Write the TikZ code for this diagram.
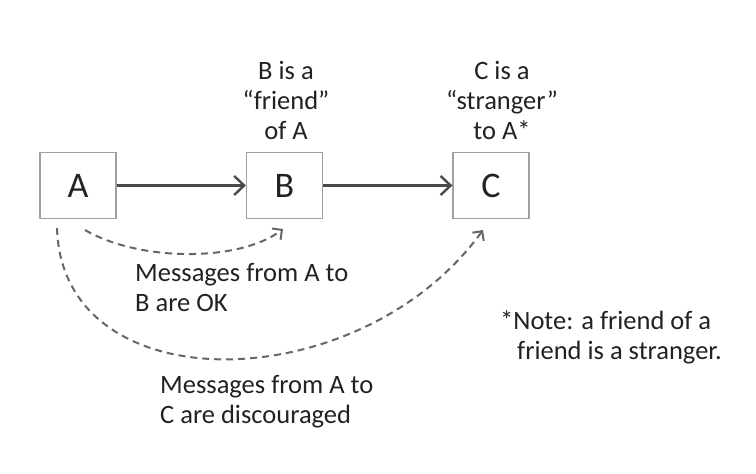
\documentclass[tikz,border=0pt]{standalone}
\usepackage{fontspec}
\setmainfont{Carlito}
\usetikzlibrary{arrows.meta}
\definecolor{txt}{HTML}{222222}
\definecolor{boxline}{HTML}{A0A0A0}
\definecolor{arr}{HTML}{4A4A4A}
\definecolor{dsh}{HTML}{666666}
\begin{document}
\begin{tikzpicture}[x=1pt,y=-1pt,
  box/.style={draw=boxline,line width=1.2pt,minimum width=76pt,minimum height=66pt,inner sep=0pt,text=txt,font=\fontsize{36}{40}\selectfont},
  lbl/.style={text=txt,font=\fontsize{26.5}{30}\selectfont,inner sep=0pt},
  solidarr/.style={draw=arr,line width=2.6pt,-{Straight Barb[length=10pt,width=19pt,line width=2.4pt]}},
  dasharr/.style={draw=dsh,line width=2pt,dash pattern=on 7pt off 5pt,-{Straight Barb[length=7pt,width=14pt,line width=2pt]}}]
\useasboundingbox (0,0) rectangle (756,474);
\fill[white] (0,0) rectangle (756,474);
\node[box] (A) at (78,185.5) {A};
\node[box] (B) at (284.5,185.5) {B};
\node[box] (C) at (491,185.5) {C};
\draw[solidarr] (A.east) -- (B.west);
\draw[solidarr] (B.east) -- (C.west);
\node[lbl,align=center] (lb) at (286,100) {B is a\\“friend”\\of A};
\node[lbl,align=center] (lc) at (502,100) {C is a\\“stranger”\\to A*};
\coordinate (s1) at (85,230);
\coordinate (e1) at (283,229);
\coordinate (s2) at (57,228);
\coordinate (e2) at (483,230);
\draw[dasharr] (s1) .. controls (140,262) and (240,262) .. (e1);
\draw[dasharr] (s2) .. controls (62,405) and (360,400) .. (e2);
\node[lbl,align=left,anchor=west] (m1) at (135,288) {Messages from A to\\B are OK};
\node[lbl,align=left,anchor=west] (m2) at (160,402) {Messages from A to\\C are discouraged};
\node[lbl,align=left,anchor=west] (note) at (500,337) {*Note: a friend of a\\\hspace*{17pt}friend is a stranger.};
\end{tikzpicture}
\end{document}
